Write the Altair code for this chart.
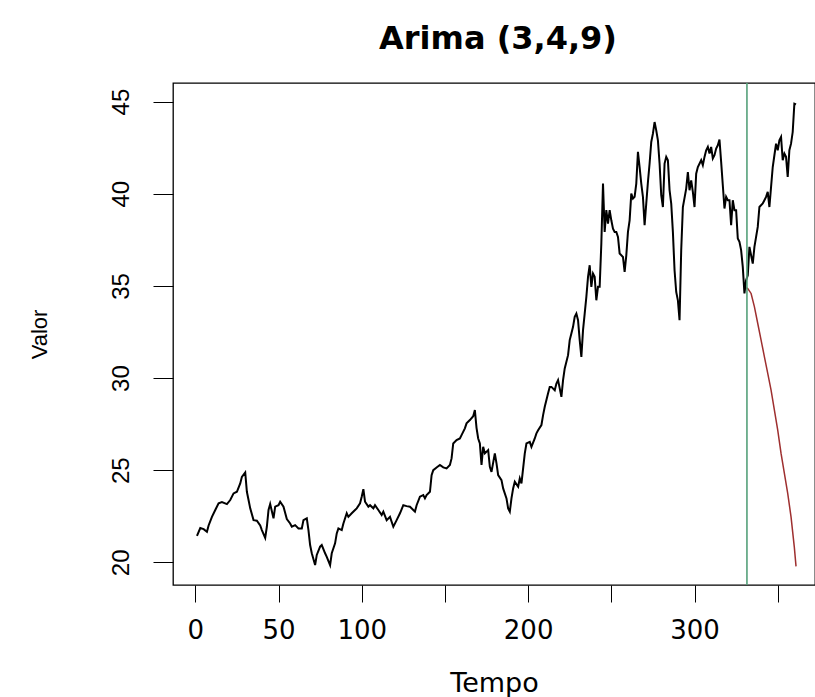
import altair as alt
import pandas as pd

# Série observada (Tempo, Valor)
tempo = [
    1, 3, 5, 7, 8, 10, 12, 14, 16, 19, 21, 23, 25, 27, 28, 30, 31, 32, 33, 35,
    37, 39, 40, 42, 43, 44, 45, 47, 48, 50, 51, 53, 55, 57, 58, 60, 62, 64, 65, 67,
    68, 69, 70, 72, 73, 75, 76, 78, 79, 81, 82, 84, 85, 86, 88, 89, 91, 92, 94, 96,
    97, 99, 100, 101, 102, 104, 105, 107, 108, 110, 112, 113, 115, 117, 119, 121, 123, 125, 127, 129,
    131, 132, 133, 135, 137, 138, 139, 141, 142, 143, 145, 147, 149, 151, 153, 154, 155, 157, 159, 160,
    162, 163, 165, 167, 168, 169, 170, 171, 172, 173, 174, 176, 177, 178, 180, 181, 182, 184, 185, 187,
    188, 189, 190, 191, 192, 194, 195, 196, 198, 199, 201, 202, 204, 205, 206, 208, 209, 210, 212, 213,
    214, 216, 217, 218, 219, 220, 221, 222, 224, 225, 226, 227, 228, 229, 230, 231, 232, 233, 234, 235,
    236, 237, 238, 239, 240, 241, 242, 243, 244, 245, 246, 247, 248, 249, 250, 251, 252, 253, 254, 255,
    257, 258, 259, 260, 261, 262, 263, 264, 265, 266, 267, 268, 269, 270, 271, 272, 273, 274, 275, 276,
    277, 278, 279, 280, 281, 282, 283, 284, 285, 286, 287, 288, 289, 290, 291, 292, 293, 295, 296, 297,
    298, 299, 300, 301, 302, 304, 305, 306, 307, 308, 309, 310, 311, 312, 313, 314, 315, 316, 317, 318,
    319, 320, 321, 322, 323, 324, 325, 326, 327, 328, 329, 330, 331, 332, 333, 334, 335, 336, 337, 338,
    339, 341, 342, 343, 344, 345, 346, 347, 348, 349, 350, 351, 352, 353, 354, 355, 356, 357, 358, 359,
    360, 361,
]
valor = [
    21.43, 21.86, 21.80, 21.66, 22.00, 22.47, 22.84, 23.20, 23.27, 23.16, 23.38, 23.74, 23.83, 24.28, 24.64, 24.88, 23.83, 23.38, 22.93, 22.29,
    22.26, 22.00, 21.75, 21.33, 21.93, 22.84, 23.16, 22.39, 23.02, 23.10, 23.29, 23.02, 22.35, 22.11, 21.93, 22.02, 21.84, 21.84, 22.29, 22.39,
    21.75, 20.94, 20.49, 19.85, 20.40, 20.85, 20.94, 20.49, 20.30, 19.85, 20.49, 21.03, 21.57, 21.84, 21.75, 22.11, 22.66, 22.47, 22.66, 22.84,
    22.93, 23.20, 23.56, 23.97, 23.29, 23.02, 23.10, 22.93, 23.10, 22.84, 22.57, 22.75, 22.29, 22.47, 21.93, 22.29, 22.66, 23.10, 23.05, 23.02,
    22.84, 22.75, 23.10, 23.56, 23.65, 23.47, 23.65, 23.83, 24.73, 25.00, 25.15, 25.28, 25.15, 25.10, 25.28, 25.64, 26.45, 26.63, 26.72, 26.90,
    27.27, 27.54, 27.72, 27.93, 28.26, 27.30, 26.72, 26.45, 25.28, 26.27, 25.91, 26.09, 25.18, 24.91, 25.91, 25.37, 24.73, 24.46, 24.01, 23.47,
    22.93, 22.75, 23.47, 24.01, 24.37, 24.10, 24.55, 24.28, 25.91, 26.45, 26.54, 26.27, 26.72, 27.00, 27.17, 27.45, 27.99, 28.44, 29.17, 29.52,
    29.52, 29.34, 29.70, 29.89, 29.44, 28.98, 29.89, 30.52, 31.24, 32.06, 32.42, 32.78, 33.32, 33.50, 33.14, 32.06, 31.15, 32.60, 33.50, 34.40,
    35.49, 36.12, 34.95, 35.67, 35.49, 34.22, 34.95, 34.95, 37.30, 40.55, 37.93, 39.11, 38.38, 39.11, 38.56, 38.11, 37.93, 37.93, 37.66, 36.76,
    36.57, 35.76, 36.66, 37.93, 38.56, 40.01, 39.74, 39.83, 40.55, 42.27, 41.45, 40.55, 39.83, 38.29, 39.47, 40.64, 41.64, 42.81, 43.26, 43.89,
    43.44, 42.90, 41.64, 39.92, 39.28, 41.64, 42.00, 41.82, 40.20, 39.47, 37.93, 35.85, 34.67, 34.22, 33.14, 36.94, 39.28, 40.28, 41.18, 40.19,
    40.73, 40.10, 39.28, 41.09, 41.45, 41.82, 41.55, 42.00, 42.36, 42.54, 42.18, 42.54, 41.91, 42.09, 42.45, 42.63, 42.94, 41.73, 40.46, 39.20,
    39.83, 39.65, 39.65, 38.29, 39.65, 39.11, 39.11, 37.57, 37.39, 36.94, 36.03, 34.59, 35.31, 35.58, 37.12, 36.66, 36.21, 37.12, 37.66, 38.20,
    39.28, 39.47, 39.65, 39.83, 40.10, 39.28, 40.37, 41.45, 42.09, 42.72, 42.36, 42.90, 43.08, 41.82, 42.18, 42.00, 40.91, 42.36, 42.72, 43.35,
    44.89, 44.85,
]

# Previsão do modelo ARIMA(3,4,9)
prev_tempo = [331, 332, 334, 336, 338, 340, 342, 344, 346, 348, 350, 352, 354, 356, 358, 360, 361]
prev_valor = [34.90, 34.86, 34.59, 33.86, 32.96, 32.06, 31.15, 30.25, 29.34, 28.26, 27.17, 25.91, 24.83, 23.74, 22.47, 20.80, 19.78]

# Fim do período de treino
corte = [331.5]

x_ticks = [0, 50, 100, 150, 200, 250, 300, 350]
y_ticks = [20, 25, 30, 35, 40, 45]

serie = pd.DataFrame({"Tempo": tempo, "Valor": valor})
previsao = pd.DataFrame({"Tempo": prev_tempo, "Valor": prev_valor})
linha_corte = pd.DataFrame({"Tempo": corte})

x_scale = alt.Scale(domain=[-13.4, 372.4], nice=False, zero=False)
y_scale = alt.Scale(domain=[18.77, 46.01], nice=False, zero=False)

x_axis = alt.Axis(
    title="Tempo",
    values=x_ticks,
    labelExpr="(datum.value == 150 || datum.value == 250 || datum.value == 350) ? '' : datum.label",
    labelFont="DejaVu Sans",
    labelFontSize=26,
    labelColor="black",
    labelPadding=15,
    labelFlush=False,
    labelOverlap=False,
    titleFont="DejaVu Sans",
    titleFontSize=27,
    titleFontWeight="normal",
    titleColor="black",
    titlePadding=27,
    tickColor="black",
    tickSize=17,
    tickWidth=1,
    domain=False,
    grid=False,
)

y_axis = alt.Axis(
    title="Valor",
    values=y_ticks,
    labelAngle=-90,
    labelAlign="center",
    labelBaseline="bottom",
    labelFont="Liberation Sans",
    labelFontSize=24,
    labelColor="black",
    labelPadding=20,
    labelFlush=False,
    labelOverlap=False,
    titleFont="Liberation Sans",
    titleFontSize=22,
    titleFontWeight="normal",
    titleColor="black",
    titlePadding=58,
    tickColor="black",
    tickSize=20,
    tickWidth=1,
    domain=False,
    grid=False,
)

base_x = alt.X("Tempo:Q", scale=x_scale, axis=x_axis)
base_y = alt.Y("Valor:Q", scale=y_scale, axis=y_axis)

linha_serie = alt.Chart(serie).mark_line(color="black", strokeWidth=2.0).encode(
    x=base_x, y=base_y, order="Tempo:Q"
)

linha_prev = alt.Chart(previsao).mark_line(color="#9e2f2f", strokeWidth=1.5).encode(
    x=alt.X("Tempo:Q", scale=x_scale), y=alt.Y("Valor:Q", scale=y_scale), order="Tempo:Q"
)

regra = alt.Chart(linha_corte).mark_rule(color="#55a07a", strokeWidth=1.6).encode(
    x=alt.X("Tempo:Q", scale=x_scale)
)

chart = (
    alt.layer(linha_serie, linha_prev, regra)
    .properties(
        width=642,
        height=502,
        title=alt.TitleParams(
            "Arima (3,4,9)",
            font="DejaVu Sans",
            fontSize=32,
            fontWeight="bold",
            color="black",
            anchor="middle",
            baseline="alphabetic",
            offset=1,
            dx=4,
        ),
        autosize=alt.AutoSizeParams(type="none"),
        padding={"left": 173, "top": 83, "right": 0, "bottom": 112},
    )
    .configure(background="white")
    .configure_view(stroke="black", strokeWidth=1.3)
)

chart.save("out.html", embed_options={"renderer": "svg", "actions": False})
